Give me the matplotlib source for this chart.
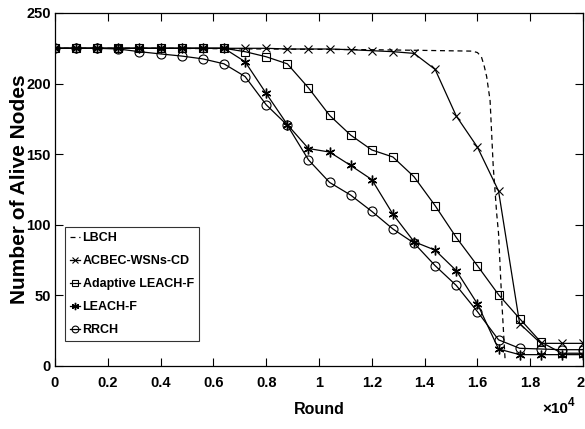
import numpy as np
import matplotlib
matplotlib.use("Agg")
import matplotlib.pyplot as plt
from matplotlib.ticker import FuncFormatter, MultipleLocator

# 字体设置：加粗无衬线
plt.rcParams["font.family"] = ["Liberation Sans", "DejaVu Sans"]
plt.rcParams["font.weight"] = "bold"

# 采样轮次（每 800 轮一个点）
rounds = [0, 800, 1600, 2400, 3200, 4000, 4800, 5600, 6400, 7200,
          8000, 8800, 9600, 10400, 11200, 12000, 12800, 13600, 14400, 15200,
          16000, 16800, 17600, 18400, 19200, 20000]

acbec = [225, 225, 225, 225, 225, 225, 225, 225, 225, 225,
         225, 224.5, 224.5, 224.5, 224, 223.3, 222.6, 221.4, 210, 177,
         155, 124, 30, 16, 16, 16]
adaptive_leach_f = [225, 225, 225, 225, 225, 225, 225, 225, 225, 222.6,
                    219, 214, 197, 177.5, 163.5, 153, 148, 134, 113.5, 91,
                    71, 50.5, 33.5, 17, 9, 9]
leach_f = [225, 225, 225, 225, 225, 225, 225, 225, 225, 215.5,
           193, 171, 154, 151.5, 142, 132, 107.5, 88, 82, 67.5,
           44, 12, 8, 8, 8, 8]
rrch = [225, 225, 225, 224.5, 222.6, 221, 219.5, 217.5, 214, 205,
        185, 170.5, 146, 130, 121, 109.5, 97, 87, 71, 57,
        38.5, 18.5, 12.5, 12, 11.5, 11.5]

# LBCH 为连续曲线（无标记）
lbch_rounds = [0, 4000, 8000, 12000, 14000, 15800, 16000, 16150, 16250, 16350,
               16480, 16600, 16730, 16800, 16920, 17050]
lbch_nodes = [225, 225, 224.5, 224, 223.5, 223, 222, 219, 213, 205,
              188, 141, 108, 94, 47, 4]

fig = plt.figure(figsize=(5.85, 4.29), dpi=100)
ax = fig.add_axes([0.094, 0.147, 0.9026, 0.8227])

lw = 0.9
ms = 6
ax.plot(lbch_rounds, lbch_nodes, color="black", linestyle=(0, (4, 3)), linewidth=lw, label="LBCH")
ax.plot(rounds, acbec, color="black", linewidth=lw, marker="x", markersize=ms,
        markeredgewidth=0.8, label="ACBEC-WSNs-CD")
ax.plot(rounds, adaptive_leach_f, color="black", linewidth=lw, marker="s", markersize=ms - 0.5,
        markerfacecolor="none", markeredgewidth=0.8, label="Adaptive LEACH-F")
ax.plot(rounds, leach_f, color="black", linewidth=lw, marker=(6, 2, 0), markersize=ms + 1,
        markeredgewidth=1.0, label="LEACH-F")
ax.plot(rounds, rrch, color="black", linewidth=lw, marker="o", markersize=ms + 0.5,
        markerfacecolor="none", markeredgewidth=0.8, label="RRCH")

ax.set_xlim(0, 20000)
ax.set_ylim(0, 250)
ax.xaxis.set_major_locator(MultipleLocator(2000))
ax.yaxis.set_major_locator(MultipleLocator(50))
# 横轴以 10^4 为单位显示；最右侧的 "2" 单独右对齐绘制，避免贴边被裁切
ax.xaxis.set_major_formatter(FuncFormatter(lambda v, p: "" if v >= 20000 else f"{v / 1e4:g}"))

ax.tick_params(direction="in", length=6, width=0.8, top=True, right=True, labelsize=10.5)
ax.tick_params(axis="x", pad=7)
ax.tick_params(axis="y", pad=3)
for s in ax.spines.values():
    s.set_linewidth(0.9)

ax.annotate(f"{ax.get_xlim()[1] / 1e4:g}", xy=(1, 0), xycoords="axes fraction",
            xytext=(1.5, -7), textcoords="offset points", ha="right", va="top",
            fontsize=10.5, fontweight="bold")

ax.set_xlabel("Round", fontsize=11.5, fontweight="bold", labelpad=9)
ax.set_ylabel("Number of Alive Nodes", fontsize=15, fontweight="bold")
ax.yaxis.set_label_coords(-0.05, 0.5)

# 坐标轴倍数标注 ×10^4
fig.text(0.927, 0.037, "\u00d710", fontsize=11, fontweight="bold", ha="left", va="baseline")
fig.text(0.970, 0.053, "4", fontsize=8.5, fontweight="bold", ha="left", va="baseline")

leg = ax.legend(loc="lower left", bbox_to_anchor=(0.019, 0.071), fontsize=9,
                handlelength=0.8, handletextpad=0.2, borderpad=0.4, labelspacing=0.88,
                borderaxespad=0, frameon=True, fancybox=False, markerscale=0.75)
leg.get_frame().set_edgecolor("black")
leg.get_frame().set_linewidth(0.8)

fig.savefig("out.png", dpi=100)
